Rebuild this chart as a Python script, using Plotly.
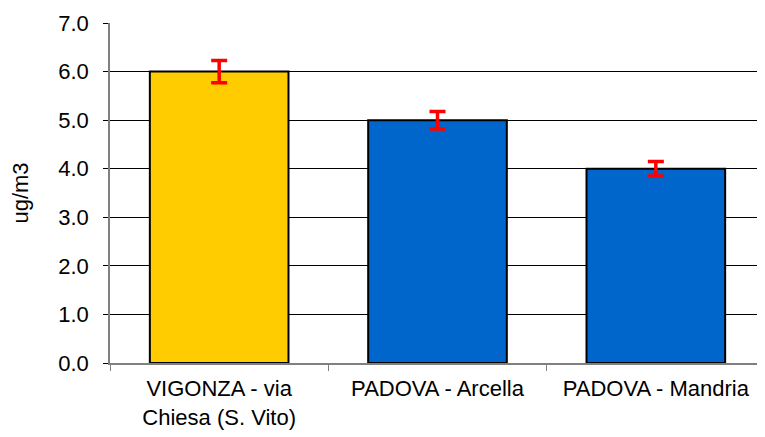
import plotly.graph_objects as go

categories = ["VIGONZA - via<br>Chiesa (S. Vito)", "PADOVA - Arcella", "PADOVA - Mandria"]
values = [6.0, 5.0, 4.0]
errors = [0.23, 0.18, 0.15]
colors = ["#FFCC00", "#0066CC", "#0066CC"]
y_ticks = [0, 1, 2, 3, 4, 5, 6, 7]

fig = go.Figure()
fig.add_trace(go.Bar(
    x=categories, y=values,
    marker=dict(color=colors, line=dict(color="black", width=2)),
    error_y=dict(type="data", array=errors, visible=True, color="#FF0000", thickness=3.5, width=8),
    width=0.635,
))

fig.update_layout(
    width=757, height=429,
    margin=dict(l=102, r=0, t=15, b=74),
    plot_bgcolor="white", paper_bgcolor="white",
    font=dict(family="Liberation Sans, Arial", size=22, color="black"),
    showlegend=False,
)
fig.update_yaxes(
    range=[0, 7], tickvals=y_ticks, tickformat=".1f",
    showgrid=True, gridcolor="black", gridwidth=1,
    showline=True, linecolor="#808080", linewidth=1.5,
    ticks="outside", ticklen=5, tickcolor="black",
    ticklabelstandoff=10,
    tickfont=dict(size=22),
    title=dict(text="ug/m3", font=dict(size=22), standoff=25),
    zeroline=False, automargin=False,
)
fig.update_xaxes(
    showline=True, linecolor="#808080", linewidth=1.5,
    ticks="outside", ticklen=6, tickcolor="#808080", tickson="boundaries",
    ticklabelstandoff=5,
    tickfont=dict(size=22),
    automargin=False,
)

fig.write_html("out.html")
